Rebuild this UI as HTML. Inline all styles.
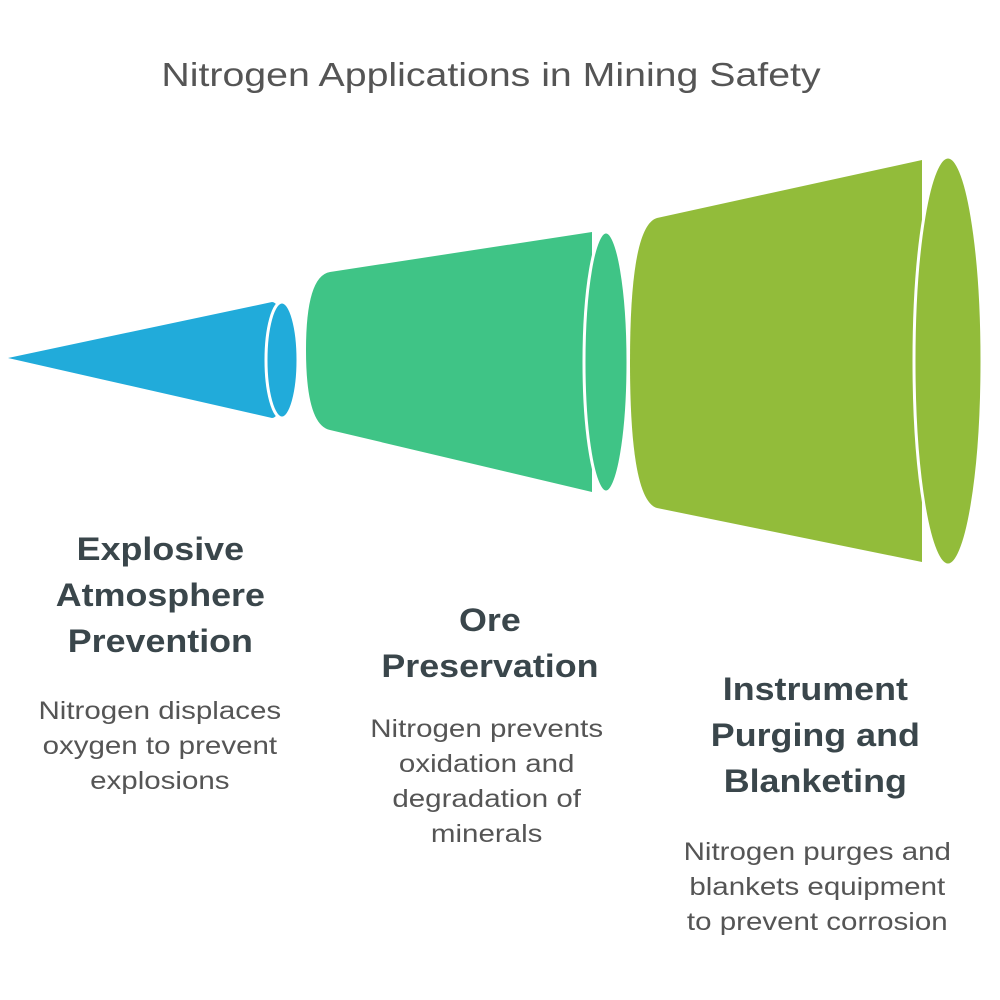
<!DOCTYPE html>
<html><head><meta charset="utf-8"><style>
body{margin:0;width:1000px;height:1000px;background:#fff;font-family:"Liberation Sans",sans-serif;position:relative;overflow:hidden}
.t{position:absolute;text-align:center}
.t span{display:inline-block}
.h{font-weight:bold;color:#3a464b;font-size:32px;line-height:46px}
.h span{transform:scaleX(1.12)}
.d{color:#555;font-size:25px;line-height:35px}
.d span{transform:scaleX(1.18)}
</style></head><body>
<div class="t" style="left:0;width:1000px;top:56px;font-size:33px;color:#555;margin-left:-9px"><span style="transform:scaleX(1.19)">Nitrogen Applications in Mining Safety</span></div>
<svg width="1000" height="1000" style="position:absolute;left:0;top:0">
<path d="M8,358 L272,302 A15,58 0 0 1 272,418 Z" fill="#21ABDA"/>
<ellipse cx="282" cy="360" rx="16" ry="58" fill="#21ABDA" stroke="#fff" stroke-width="3"/>
<path d="M330,272 L592,232 L592,492 L330,430 Q306,425 306,350 Q306,276 330,272 Z" fill="#3FC486"/>
<ellipse cx="606" cy="362" rx="22" ry="130" fill="#3FC486" stroke="#fff" stroke-width="3"/>
<path d="M657,218 L922,160 L922,562 L657,508 Q630,500 630,362 Q630,226 657,218 Z" fill="#92BC3A"/>
<ellipse cx="948" cy="361" rx="34" ry="204" fill="#92BC3A" stroke="#fff" stroke-width="3"/>
</svg>
<div class="t h" style="left:20px;width:280px;top:526px"><span>Explosive<br>Atmosphere<br>Prevention</span></div>
<div class="t d" style="left:20px;width:280px;top:694px"><span>Nitrogen displaces<br>oxygen to prevent<br>explosions</span></div>
<div class="t h" style="left:350px;width:280px;top:597px"><span>Ore<br>Preservation</span></div>
<div class="t d" style="left:347px;width:280px;top:712px"><span>Nitrogen prevents<br>oxidation and<br>degradation of<br>minerals</span></div>
<div class="t h" style="left:675px;width:280px;top:666px"><span>Instrument<br>Purging and<br>Blanketing</span></div>
<div class="t d" style="left:677px;width:280px;top:835px"><span>Nitrogen purges and<br>blankets equipment<br>to prevent corrosion</span></div>
</body></html>
